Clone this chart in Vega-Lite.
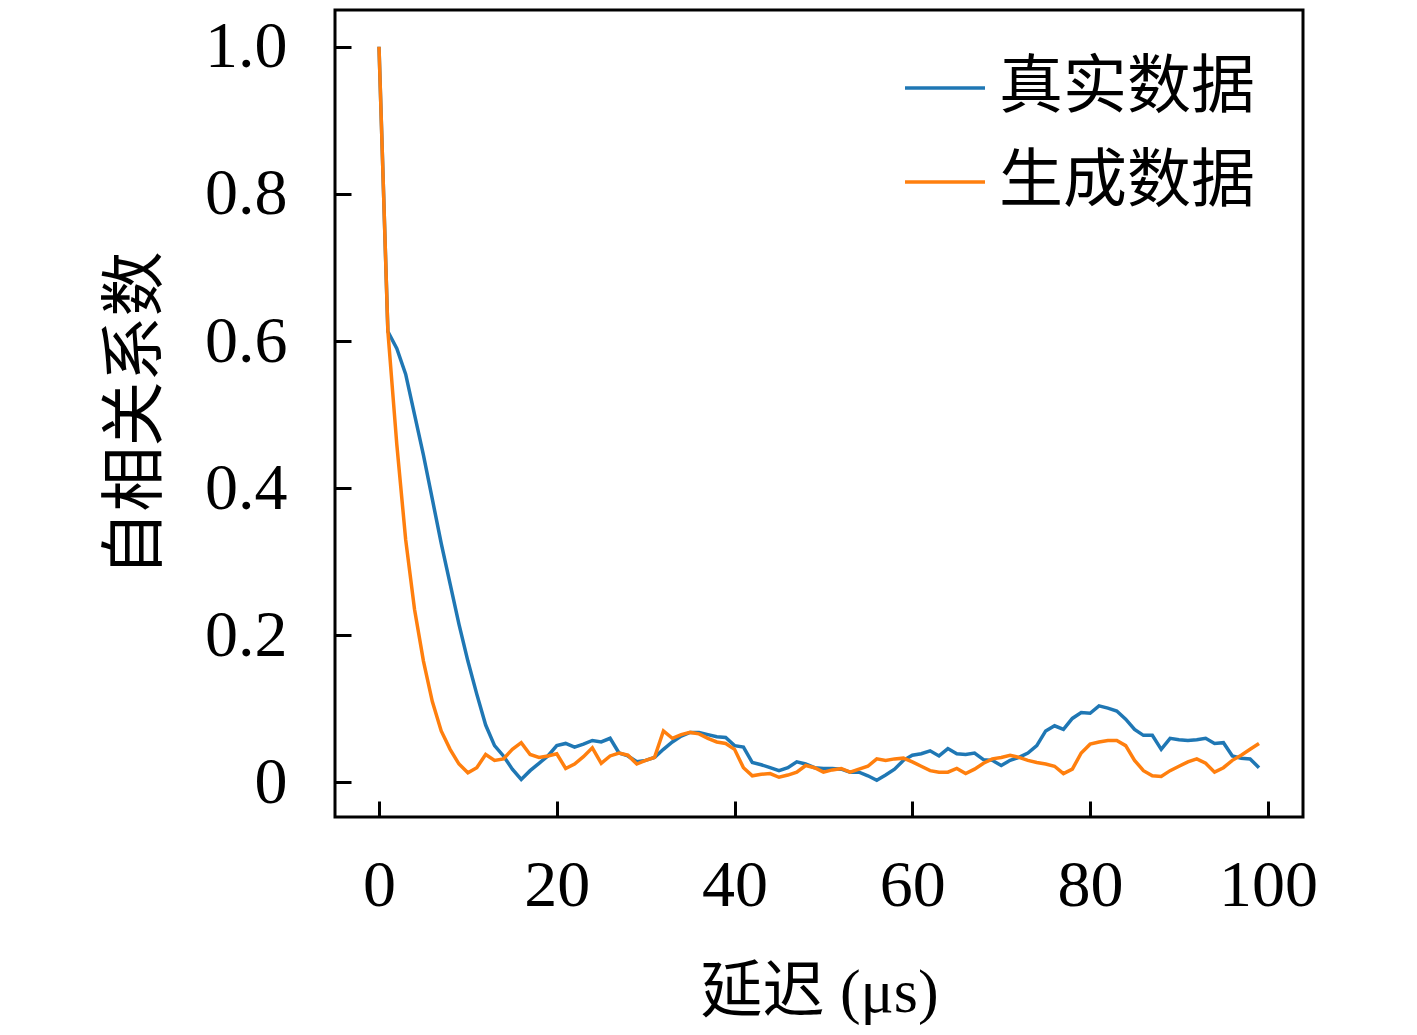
{
  "$schema": "https://vega.github.io/schema/vega-lite/v6.json",
  "autosize": "none",
  "width": 968,
  "height": 807,
  "padding": {"left": 335, "top": 10, "right": 114, "bottom": 218},
  "background": "white",
  "config": {
    "view": {"stroke": "black", "strokeWidth": 3},
    "font": "Liberation Serif"
  },
  "data": {"values": [
    {"x":0,"y":1.0,"s":"真实数据"},{"x":1,"y":0.613,"s":"真实数据"},{"x":2,"y":0.59,"s":"真实数据"},{"x":3,"y":0.555,"s":"真实数据"},{"x":4,"y":0.5,"s":"真实数据"},{"x":5,"y":0.445,"s":"真实数据"},{"x":6,"y":0.385,"s":"真实数据"},{"x":7,"y":0.325,"s":"真实数据"},{"x":8,"y":0.27,"s":"真实数据"},{"x":9,"y":0.215,"s":"真实数据"},
    {"x":10,"y":0.165,"s":"真实数据"},{"x":11,"y":0.12,"s":"真实数据"},{"x":12,"y":0.078,"s":"真实数据"},{"x":13,"y":0.05,"s":"真实数据"},{"x":14,"y":0.036,"s":"真实数据"},{"x":15,"y":0.018,"s":"真实数据"},{"x":16,"y":0.004,"s":"真实数据"},{"x":17,"y":0.016,"s":"真实数据"},{"x":18,"y":0.026,"s":"真实数据"},{"x":19,"y":0.036,"s":"真实数据"},
    {"x":20,"y":0.05,"s":"真实数据"},{"x":21,"y":0.053,"s":"真实数据"},{"x":22,"y":0.048,"s":"真实数据"},{"x":23,"y":0.052,"s":"真实数据"},{"x":24,"y":0.057,"s":"真实数据"},{"x":25,"y":0.055,"s":"真实数据"},{"x":26,"y":0.06,"s":"真实数据"},{"x":27,"y":0.04,"s":"真实数据"},{"x":28,"y":0.036,"s":"真实数据"},{"x":29,"y":0.028,"s":"真实数据"},
    {"x":30,"y":0.03,"s":"真实数据"},{"x":31,"y":0.034,"s":"真实数据"},{"x":32,"y":0.045,"s":"真实数据"},{"x":33,"y":0.055,"s":"真实数据"},{"x":34,"y":0.063,"s":"真实数据"},{"x":35,"y":0.068,"s":"真实数据"},{"x":36,"y":0.068,"s":"真实数据"},{"x":37,"y":0.065,"s":"真实数据"},{"x":38,"y":0.062,"s":"真实数据"},{"x":39,"y":0.061,"s":"真实数据"},
    {"x":40,"y":0.05,"s":"真实数据"},{"x":41,"y":0.048,"s":"真实数据"},{"x":42,"y":0.027,"s":"真实数据"},{"x":43,"y":0.024,"s":"真实数据"},{"x":44,"y":0.02,"s":"真实数据"},{"x":45,"y":0.016,"s":"真实数据"},{"x":46,"y":0.02,"s":"真实数据"},{"x":47,"y":0.028,"s":"真实数据"},{"x":48,"y":0.025,"s":"真实数据"},{"x":49,"y":0.02,"s":"真实数据"},
    {"x":50,"y":0.019,"s":"真实数据"},{"x":51,"y":0.019,"s":"真实数据"},{"x":52,"y":0.018,"s":"真实数据"},{"x":53,"y":0.014,"s":"真实数据"},{"x":54,"y":0.014,"s":"真实数据"},{"x":55,"y":0.009,"s":"真实数据"},{"x":56,"y":0.003,"s":"真实数据"},{"x":57,"y":0.01,"s":"真实数据"},{"x":58,"y":0.018,"s":"真实数据"},{"x":59,"y":0.03,"s":"真实数据"},
    {"x":60,"y":0.037,"s":"真实数据"},{"x":61,"y":0.039,"s":"真实数据"},{"x":62,"y":0.043,"s":"真实数据"},{"x":63,"y":0.036,"s":"真实数据"},{"x":64,"y":0.046,"s":"真实数据"},{"x":65,"y":0.039,"s":"真实数据"},{"x":66,"y":0.038,"s":"真实数据"},{"x":67,"y":0.04,"s":"真实数据"},{"x":68,"y":0.031,"s":"真实数据"},{"x":69,"y":0.03,"s":"真实数据"},
    {"x":70,"y":0.023,"s":"真实数据"},{"x":71,"y":0.03,"s":"真实数据"},{"x":72,"y":0.034,"s":"真实数据"},{"x":73,"y":0.04,"s":"真实数据"},{"x":74,"y":0.05,"s":"真实数据"},{"x":75,"y":0.07,"s":"真实数据"},{"x":76,"y":0.077,"s":"真实数据"},{"x":77,"y":0.072,"s":"真实数据"},{"x":78,"y":0.087,"s":"真实数据"},{"x":79,"y":0.095,"s":"真实数据"},
    {"x":80,"y":0.094,"s":"真实数据"},{"x":81,"y":0.104,"s":"真实数据"},{"x":82,"y":0.101,"s":"真实数据"},{"x":83,"y":0.097,"s":"真实数据"},{"x":84,"y":0.086,"s":"真实数据"},{"x":85,"y":0.072,"s":"真实数据"},{"x":86,"y":0.064,"s":"真实数据"},{"x":87,"y":0.064,"s":"真实数据"},{"x":88,"y":0.045,"s":"真实数据"},{"x":89,"y":0.06,"s":"真实数据"},
    {"x":90,"y":0.058,"s":"真实数据"},{"x":91,"y":0.057,"s":"真实数据"},{"x":92,"y":0.058,"s":"真实数据"},{"x":93,"y":0.06,"s":"真实数据"},{"x":94,"y":0.053,"s":"真实数据"},{"x":95,"y":0.054,"s":"真实数据"},{"x":96,"y":0.036,"s":"真实数据"},{"x":97,"y":0.033,"s":"真实数据"},{"x":98,"y":0.032,"s":"真实数据"},{"x":99,"y":0.02,"s":"真实数据"},
    {"x":0,"y":1.0,"s":"生成数据"},{"x":1,"y":0.613,"s":"生成数据"},{"x":2,"y":0.46,"s":"生成数据"},{"x":3,"y":0.33,"s":"生成数据"},{"x":4,"y":0.235,"s":"生成数据"},{"x":5,"y":0.165,"s":"生成数据"},{"x":6,"y":0.11,"s":"生成数据"},{"x":7,"y":0.07,"s":"生成数据"},{"x":8,"y":0.045,"s":"生成数据"},{"x":9,"y":0.025,"s":"生成数据"},
    {"x":10,"y":0.013,"s":"生成数据"},{"x":11,"y":0.02,"s":"生成数据"},{"x":12,"y":0.038,"s":"生成数据"},{"x":13,"y":0.03,"s":"生成数据"},{"x":14,"y":0.032,"s":"生成数据"},{"x":15,"y":0.045,"s":"生成数据"},{"x":16,"y":0.054,"s":"生成数据"},{"x":17,"y":0.038,"s":"生成数据"},{"x":18,"y":0.034,"s":"生成数据"},{"x":19,"y":0.036,"s":"生成数据"},
    {"x":20,"y":0.039,"s":"生成数据"},{"x":21,"y":0.019,"s":"生成数据"},{"x":22,"y":0.025,"s":"生成数据"},{"x":23,"y":0.035,"s":"生成数据"},{"x":24,"y":0.047,"s":"生成数据"},{"x":25,"y":0.026,"s":"生成数据"},{"x":26,"y":0.036,"s":"生成数据"},{"x":27,"y":0.04,"s":"生成数据"},{"x":28,"y":0.037,"s":"生成数据"},{"x":29,"y":0.025,"s":"生成数据"},
    {"x":30,"y":0.03,"s":"生成数据"},{"x":31,"y":0.034,"s":"生成数据"},{"x":32,"y":0.07,"s":"生成数据"},{"x":33,"y":0.06,"s":"生成数据"},{"x":34,"y":0.065,"s":"生成数据"},{"x":35,"y":0.068,"s":"生成数据"},{"x":36,"y":0.066,"s":"生成数据"},{"x":37,"y":0.06,"s":"生成数据"},{"x":38,"y":0.055,"s":"生成数据"},{"x":39,"y":0.053,"s":"生成数据"},
    {"x":40,"y":0.045,"s":"生成数据"},{"x":41,"y":0.02,"s":"生成数据"},{"x":42,"y":0.009,"s":"生成数据"},{"x":43,"y":0.011,"s":"生成数据"},{"x":44,"y":0.012,"s":"生成数据"},{"x":45,"y":0.007,"s":"生成数据"},{"x":46,"y":0.01,"s":"生成数据"},{"x":47,"y":0.014,"s":"生成数据"},{"x":48,"y":0.023,"s":"生成数据"},{"x":49,"y":0.02,"s":"生成数据"},
    {"x":50,"y":0.014,"s":"生成数据"},{"x":51,"y":0.017,"s":"生成数据"},{"x":52,"y":0.019,"s":"生成数据"},{"x":53,"y":0.014,"s":"生成数据"},{"x":54,"y":0.018,"s":"生成数据"},{"x":55,"y":0.022,"s":"生成数据"},{"x":56,"y":0.032,"s":"生成数据"},{"x":57,"y":0.03,"s":"生成数据"},{"x":58,"y":0.032,"s":"生成数据"},{"x":59,"y":0.033,"s":"生成数据"},
    {"x":60,"y":0.028,"s":"生成数据"},{"x":61,"y":0.022,"s":"生成数据"},{"x":62,"y":0.016,"s":"生成数据"},{"x":63,"y":0.014,"s":"生成数据"},{"x":64,"y":0.014,"s":"生成数据"},{"x":65,"y":0.019,"s":"生成数据"},{"x":66,"y":0.012,"s":"生成数据"},{"x":67,"y":0.018,"s":"生成数据"},{"x":68,"y":0.026,"s":"生成数据"},{"x":69,"y":0.032,"s":"生成数据"},
    {"x":70,"y":0.034,"s":"生成数据"},{"x":71,"y":0.037,"s":"生成数据"},{"x":72,"y":0.034,"s":"生成数据"},{"x":73,"y":0.03,"s":"生成数据"},{"x":74,"y":0.027,"s":"生成数据"},{"x":75,"y":0.025,"s":"生成数据"},{"x":76,"y":0.022,"s":"生成数据"},{"x":77,"y":0.012,"s":"生成数据"},{"x":78,"y":0.018,"s":"生成数据"},{"x":79,"y":0.04,"s":"生成数据"},
    {"x":80,"y":0.052,"s":"生成数据"},{"x":81,"y":0.055,"s":"生成数据"},{"x":82,"y":0.057,"s":"生成数据"},{"x":83,"y":0.057,"s":"生成数据"},{"x":84,"y":0.05,"s":"生成数据"},{"x":85,"y":0.03,"s":"生成数据"},{"x":86,"y":0.016,"s":"生成数据"},{"x":87,"y":0.009,"s":"生成数据"},{"x":88,"y":0.008,"s":"生成数据"},{"x":89,"y":0.016,"s":"生成数据"},
    {"x":90,"y":0.022,"s":"生成数据"},{"x":91,"y":0.028,"s":"生成数据"},{"x":92,"y":0.032,"s":"生成数据"},{"x":93,"y":0.026,"s":"生成数据"},{"x":94,"y":0.014,"s":"生成数据"},{"x":95,"y":0.02,"s":"生成数据"},{"x":96,"y":0.03,"s":"生成数据"},{"x":97,"y":0.037,"s":"生成数据"},{"x":98,"y":0.045,"s":"生成数据"},{"x":99,"y":0.053,"s":"生成数据"}
  ]},
  "mark": {"type": "line", "strokeWidth": 3.5, "clip": true},
  "encoding": {
    "x": {
      "field": "x", "type": "quantitative",
      "scale": {"domain": [-4.95, 103.95], "nice": false, "zero": false},
      "axis": {
        "title": "延迟 (μs)", "values": [0, 20, 40, 60, 80, 100], "format": "d",
        "grid": false, "domain": false,
        "tickSize": -16, "tickWidth": 3, "tickColor": "black",
        "labelFont": "Liberation Serif", "labelFontSize": 66, "labelColor": "black", "labelPadding": 52,
        "titleFont": "Liberation Serif, Noto Sans CJK SC", "titleFontSize": 62, "titleFontWeight": "normal", "titleColor": "black", "titlePadding": 44
      }
    },
    "y": {
      "field": "y", "type": "quantitative",
      "scale": {"domain": [-0.047, 1.05], "nice": false, "zero": false},
      "axis": {
        "title": "自相关系数", "values": [0, 0.2, 0.4, 0.6, 0.8, 1.0],
        "labelExpr": "datum.value == 0 ? '0' : format(datum.value, '.1f')",
        "grid": false, "domain": false,
        "tickSize": -16, "tickWidth": 3, "tickColor": "black",
        "labelFont": "Liberation Serif", "labelFontSize": 66, "labelColor": "black", "labelPadding": 64,
        "titleFont": "Liberation Serif, Noto Sans CJK SC", "titleFontSize": 65, "titleFontWeight": "normal", "titleColor": "black", "titlePadding": 35
      }
    },
    "color": {
      "field": "s", "type": "nominal",
      "scale": {"domain": ["真实数据", "生成数据"], "range": ["#1f77b4", "#ff7f0e"]},
      "legend": {
        "title": null, "orient": "none", "legendX": 568, "legendY": 36,
        "symbolType": "stroke", "symbolSize": 6400, "symbolStrokeWidth": 3.5,
        "labelFont": "Liberation Serif, Noto Sans CJK SC", "labelFontSize": 64, "labelColor": "black",
        "labelOffset": 12, "rowPadding": 20, "labelLimit": 0
      }
    }
  }
}
